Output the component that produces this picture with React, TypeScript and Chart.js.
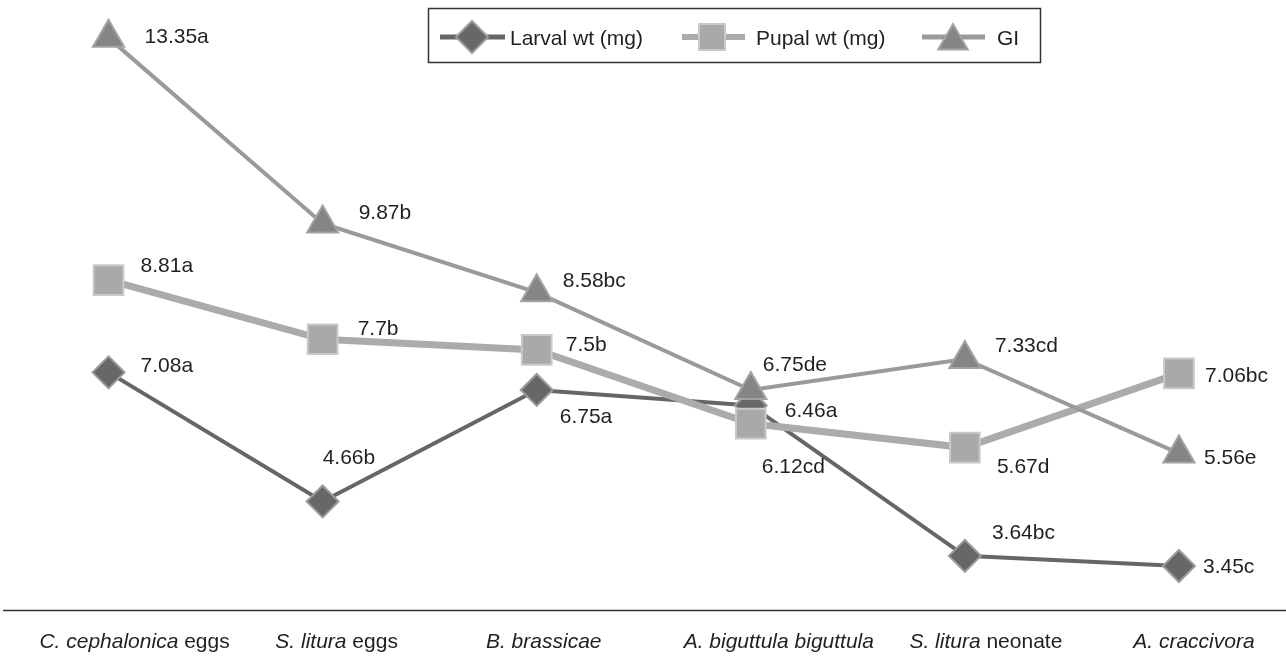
import React, { useEffect, useRef } from "react";
import { Chart, registerables } from "chart.js";

Chart.register(...registerables);

// ---------- data ----------
const categoryItalic = [
  "C. cephalonica",
  "S. litura",
  "B. brassicae",
  "A. biguttula biguttula",
  "S. litura",
  "A. craccivora",
];
const categorySuffix = [" eggs", " eggs", "", "", " neonate", ""];
const categories = categoryItalic.map((c, i) => c + categorySuffix[i]);

const seriesNames = ["Larval wt (mg)", "Pupal wt (mg)", "GI"];

const larvalWt = [7.08, 4.66, 6.75, 6.46, 3.64, 3.45];
const pupalWt = [8.81, 7.7, 7.5, 6.12, 5.67, 7.06];
const giValues = [13.35, 9.87, 8.58, 6.75, 7.33, 5.56];

const larvalLabels = ["7.08a", "4.66b", "6.75a", "6.46a", "3.64bc", "3.45c"];
const pupalLabels = ["8.81a", "7.7b", "7.5b", "6.12cd", "5.67d", "7.06bc"];
const giLabels = ["13.35a", "9.87b", "8.58bc", "6.75de", "7.33cd", "5.56e"];

const yMin = 2.625;
const yMax = 14.06;

// ---------- styles ----------
const FONT = '"Liberation Sans", Arial, Helvetica, sans-serif';
const TEXT = "#231f20";

// label offsets (dx to text left edge, dy to text cap centre), in px from point
const larvalOffsets = [[32, -8], [0, -45], [23, 26], [34, 4], [27, -24], [24, 0]];
const pupalOffsets = [[32, -16], [35, -12], [29, -6], [11, 42], [32, 18], [26, 1]];
const giOffsets = [[36, -2], [36, -12], [26, -13], [12, -26], [30, -15], [25, 3]];
// horizontal shift of each category caption from its category centre
const captionShift = [26, 14, 7, 28, 21, 15];

const styles = [
  { line: "#666666", lw: 4, shape: "diamond", fill: "#676767", border: "#9b9b9b" },
  { line: "#ababad", lw: 7, shape: "square", fill: "#a9a9ab", border: "#c9c9c9" },
  { line: "#9a9a9a", lw: 4, shape: "triangle", fill: "#858585", border: "#a3a3a3" },
];

function drawMarker(
  ctx: CanvasRenderingContext2D,
  shape: string,
  x: number,
  y: number,
  size: number,
  fill: string,
  stroke: string
) {
  ctx.beginPath();
  if (shape === "diamond") {
    ctx.moveTo(x - size, y);
    ctx.lineTo(x, y - size);
    ctx.lineTo(x + size, y);
    ctx.lineTo(x, y + size);
    ctx.closePath();
  } else if (shape === "square") {
    ctx.rect(x - size, y - size, size * 2, size * 2);
  } else {
    ctx.moveTo(x, y - size);
    ctx.lineTo(x + size * 0.866, y + size / 2);
    ctx.lineTo(x - size * 0.866, y + size / 2);
    ctx.closePath();
  }
  ctx.fillStyle = fill;
  ctx.fill();
  ctx.lineWidth = 2;
  ctx.strokeStyle = stroke;
  ctx.stroke();
}

const overlayPlugin = {
  id: "overlay",
  afterDatasetsDraw(chart: any) {
    const ctx: CanvasRenderingContext2D = chart.ctx;
    ctx.save();
    const allLabels = [larvalLabels, pupalLabels, giLabels];
    const allOffsets = [larvalOffsets, pupalOffsets, giOffsets];
    ctx.font = `21px ${FONT}`;
    ctx.fillStyle = TEXT;
    ctx.textAlign = "left";
    ctx.textBaseline = "alphabetic";
    for (let d = 0; d < 3; d++) {
      const meta = chart.getDatasetMeta(d);
      meta.data.forEach((pt: any, i: number) => {
        const [dx, dy] = allOffsets[d][i];
        ctx.fillText(allLabels[d][i], pt.x + dx, pt.y + dy + 7.5);
      });
    }
    ctx.restore();
  },
  afterDraw(chart: any) {
    const ctx: CanvasRenderingContext2D = chart.ctx;
    ctx.save();
    const axisY = chart.chartArea.bottom + 0.5;
    ctx.beginPath();
    ctx.moveTo(3, axisY);
    ctx.lineTo(1286, axisY);
    ctx.lineWidth = 1.6;
    ctx.strokeStyle = "#333333";
    ctx.stroke();

    const xScale = chart.scales.x;
    ctx.fillStyle = TEXT;
    ctx.textBaseline = "alphabetic";
    ctx.textAlign = "left";
    categories.forEach((_, i) => {
      const cx = xScale.getPixelForValue(i) + captionShift[i];
      ctx.font = `italic 21px ${FONT}`;
      const wi = ctx.measureText(categoryItalic[i]).width;
      ctx.font = `21px ${FONT}`;
      const ws = ctx.measureText(categorySuffix[i]).width;
      const x0 = cx - (wi + ws) / 2;
      ctx.font = `italic 21px ${FONT}`;
      ctx.fillText(categoryItalic[i], x0, 648);
      ctx.font = `21px ${FONT}`;
      ctx.fillText(categorySuffix[i], x0 + wi, 648);
    });

    ctx.lineWidth = 1.5;
    ctx.strokeStyle = "#333333";
    ctx.strokeRect(428.5, 8.5, 612, 54);
    const ly = 37;
    const items = [
      { x1: 440, x2: 505, mx: 472, size: 16, tx: 510 },
      { x1: 682, x2: 745, mx: 712, size: 13, tx: 756 },
      { x1: 922, x2: 985, mx: 953, size: 17, tx: 997 },
    ];
    items.forEach((it, i) => {
      const s = styles[i];
      ctx.beginPath();
      ctx.moveTo(it.x1, ly);
      ctx.lineTo(it.x2, ly);
      ctx.lineWidth = s.lw === 7 ? 6 : 5;
      ctx.strokeStyle = s.line;
      ctx.stroke();
      drawMarker(ctx, s.shape, it.mx, s.shape === "triangle" ? ly + 4 : ly, it.size, s.fill, s.border);
      ctx.font = `21px ${FONT}`;
      ctx.fillStyle = TEXT;
      ctx.textAlign = "left";
      ctx.fillText(seriesNames[i], it.tx, ly + 7.5);
    });
    ctx.restore();
  },
};

export default function App() {
  const ref = useRef<HTMLCanvasElement | null>(null);
  useEffect(() => {
    if (!ref.current) return;
    const chart = new Chart(ref.current, {
      type: "line",
      data: {
        labels: categories,
        datasets: [
          {
            label: seriesNames[0],
            data: larvalWt,
            borderColor: styles[0].line,
            borderWidth: 4,
            pointStyle: "rectRot",
            pointRadius: 16,
            pointHoverRadius: 16,
            pointBackgroundColor: styles[0].fill,
            pointBorderColor: styles[0].border,
            pointBorderWidth: 2,
            tension: 0,
            order: 2,
            clip: false as any,
          },
          {
            label: seriesNames[1],
            data: pupalWt,
            borderColor: styles[1].line,
            borderWidth: 7,
            pointStyle: "rect",
            pointRadius: 21,
            pointHoverRadius: 21,
            pointBackgroundColor: styles[1].fill,
            pointBorderColor: styles[1].border,
            pointBorderWidth: 2,
            tension: 0,
            order: 1,
            clip: false as any,
          },
          {
            label: seriesNames[2],
            data: giValues,
            borderColor: styles[2].line,
            borderWidth: 4,
            pointStyle: "triangle",
            pointRadius: 18,
            pointHoverRadius: 18,
            pointBackgroundColor: styles[2].fill,
            pointBorderColor: styles[2].border,
            pointBorderWidth: 2,
            tension: 0,
            order: 0,
            clip: false as any,
          },
        ],
      },
      options: {
        animation: false,
        responsive: false,
        devicePixelRatio: 1,
        events: [],
        layout: { autoPadding: false, padding: { left: 1.5, right: 0, top: 0, bottom: 46 } },
        scales: {
          x: { type: "category", offset: true, display: false },
          y: { display: false, min: yMin, max: yMax },
        },
        plugins: {
          legend: { display: false },
          tooltip: { enabled: false },
        },
      },
      plugins: [overlayPlugin],
    });
    return () => chart.destroy();
  }, []);

  return (
    <div
      style={{
        position: "fixed",
        left: 0,
        top: 0,
        width: 1286,
        height: 656,
        background: "#ffffff",
      }}
    >
      <canvas ref={ref} width={1286} height={656} style={{ display: "block" }} />
    </div>
  );
}
